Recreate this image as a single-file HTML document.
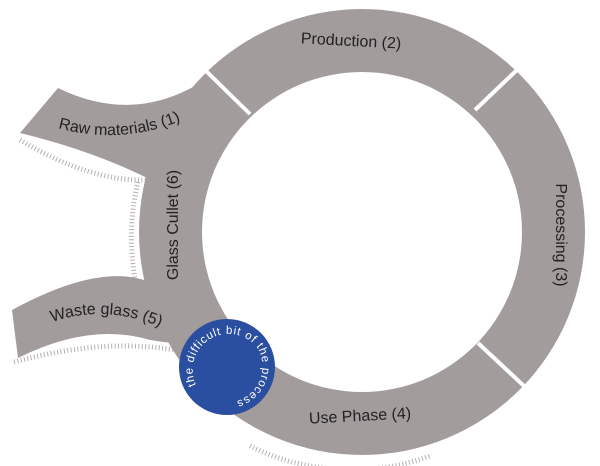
<!DOCTYPE html>
<html><head><style>html,body{margin:0;padding:0;background:#fff}svg{display:block}</style></head>
<body>
<svg width="600" height="466" viewBox="0 0 600 466" xmlns="http://www.w3.org/2000/svg" font-family="Liberation Sans, sans-serif">
<defs>
<path id="bc" d="M196 385 A36 36 0 0 1 258 349 A36 36 0 0 1 221 402"/>
<path id="rawp" d="M58 128 Q130 148 200 112"/>
<path id="wastep" d="M52 322 Q110 302 172 332"/>
</defs>
<g fill="none" stroke="#b5b0b0" stroke-width="5" stroke-dasharray="1 2.4">
 <path d="M478 100 A155 155 0 0 1 478 364"/>
 <path d="M250 446 A228 228 0 0 0 430 456"/>
 <path d="M20 140 Q90 182 148 180"/>
 <path d="M138 182 Q126 230 136 285"/>
 <path d="M14 362 Q110 336 185 352"/>
</g>
<g fill="#a39c9c">
 <path fill-rule="evenodd" d="M139 232 A223 223 0 1 0 585 232 A223 223 0 1 0 139 232 Z M202 232 A160 160 0 1 1 522 232 A160 160 0 1 1 202 232 Z"/>
 <path d="M58 88 Q140 128 215 73 L250 112 Q200 160 205 175 L145 177 Q90 150 20 133 Z"/>
 <path d="M12 310 Q100 262 150 282 L205 300 L210 345 Q180 345 150 340 Q90 322 18 358 Z"/>
</g>
<g stroke="#fff" stroke-width="4">
 <line x1="205" y1="70" x2="250" y2="114"/>
 <line x1="519" y1="68" x2="475" y2="110"/>
 <line x1="524" y1="386" x2="478" y2="343"/>
</g>
<g fill="#222" font-size="16">
 <text x="351" y="46" text-anchor="middle" transform="rotate(3 351 42)">Production (2)</text>
 <text x="556" y="235" text-anchor="middle" transform="rotate(90 556 235)">Processing (3)</text>
 <text x="360" y="421" text-anchor="middle" transform="rotate(-3 360 416)">Use Phase (4)</text>
 <text x="178" y="225" text-anchor="middle" transform="rotate(-90 178 225)">Glass Cullet (6)</text>
 <text><textPath href="#rawp">Raw materials (1)</textPath></text>
 <text><textPath href="#wastep">Waste glass (5)</textPath></text>
</g>
<circle cx="227" cy="367" r="48" fill="#2a4ea0"/>
<text fill="#fff" font-size="11.5" letter-spacing="0.8"><textPath href="#bc">the difficult bit of the process</textPath></text>
</svg>
</body></html>
